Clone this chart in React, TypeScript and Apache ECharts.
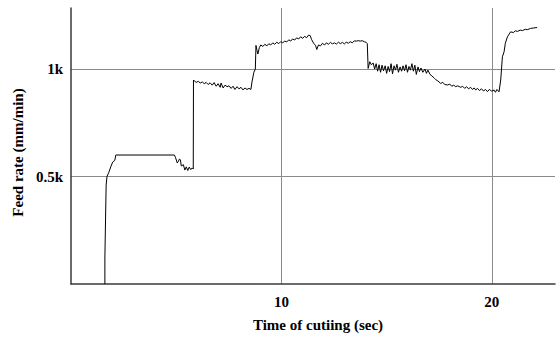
import React, { useEffect, useRef } from "react";
import * as echarts from "echarts";

const timeSec: number[] = [
  1.61, 1.61, 1.63, 1.67, 1.71, 1.8, 1.89, 1.98, 2.08, 2.13, 4.91,
  4.96, 5.05, 5.1, 5.15, 5.2, 5.24, 5.34, 5.41, 5.48, 5.55, 5.62, 5.69, 5.76, 5.81, 5.82,
  5.86, 5.95, 6.05, 6.14, 6.24, 6.33, 6.42, 6.52, 6.61, 6.71, 6.8, 6.9, 6.99, 7.09, 7.13,
  7.23, 7.32, 7.42, 7.51, 7.61, 7.7, 7.79, 7.89, 7.98, 8.08, 8.17, 8.27, 8.36, 8.46, 8.55,
  8.6, 8.69, 8.76, 8.79, 8.83, 8.88, 8.95, 9.02, 9.12, 9.21, 9.31, 9.4, 9.49, 9.59, 9.68,
  9.78, 9.87, 9.97, 10.06, 10.16, 10.25, 10.35, 10.44, 10.53, 10.63, 10.72, 10.82, 10.91,
  11.01, 11.1, 11.2, 11.29, 11.37, 11.43, 11.53, 11.62, 11.68, 11.76, 11.86, 11.95, 12.05,
  12.14, 12.23, 12.33, 12.42, 12.52, 12.61, 12.71, 12.8, 12.9, 12.99, 13.08, 13.18, 13.27,
  13.37, 13.46, 13.56, 13.65, 13.75, 13.84, 13.94, 14.03, 14.08, 14.12, 14.2, 14.27, 14.36,
  14.43, 14.5, 14.57, 14.64, 14.71, 14.78, 14.85, 14.93, 15.0, 15.07, 15.14, 15.21, 15.28,
  15.35, 15.42, 15.49, 15.56, 15.64, 15.71, 15.78, 15.85, 15.92, 15.99, 16.06, 16.13, 16.2,
  16.27, 16.34, 16.41, 16.49, 16.56, 16.63, 16.72, 16.82, 16.89, 16.96, 17.06, 17.15, 17.27,
  17.34, 17.43, 17.57, 17.67, 17.76, 17.9, 18.0, 18.09, 18.19, 18.28, 18.38, 18.52, 18.61,
  18.71, 18.8, 18.89, 18.99, 19.08, 19.16, 19.23, 19.32, 19.41, 19.51, 19.6, 19.7, 19.79,
  19.89, 19.98, 20.11, 20.17, 20.24, 20.34, 20.42, 20.5, 20.58, 20.64, 20.74, 20.89, 21.02,
  21.12, 21.21, 21.35, 21.45, 21.59, 21.68, 21.84, 21.97, 22.15,
];

const feedRate: number[] = [
  0, 121, 237, 460, 500, 520, 545, 567, 575, 600, 600,
  590, 563, 570, 581, 578, 549, 555, 530, 545, 528, 544, 532, 540, 535, 949,
  945, 938, 943, 935, 940, 932, 938, 928, 936, 925, 937, 920, 932, 915, 935,
  912, 925, 918, 922, 910, 920, 905, 918, 908, 915, 903, 912, 905, 910, 905,
  940, 985, 1000, 1110, 1090, 1070, 1100, 1112, 1105, 1115, 1108, 1118, 1112, 1122, 1115,
  1125, 1118, 1128, 1122, 1130, 1126, 1136, 1130, 1140, 1135, 1145, 1140, 1150,
  1143, 1152, 1146, 1158, 1155, 1138, 1120, 1110, 1091, 1112, 1108, 1120, 1112,
  1122, 1115, 1124, 1117, 1122, 1116, 1125, 1118, 1124, 1117, 1125, 1120, 1127,
  1122, 1131, 1130, 1132, 1130, 1132, 1127, 1124, 1118, 1003, 1034, 1020, 1028,
  1000, 1025, 990, 1020, 985, 1018, 992, 1015, 980, 1012, 988, 1025, 978,
  1015, 995, 1022, 985, 1010, 990, 1015, 992, 1020, 985, 1012, 995, 1025,
  990, 1018, 975, 1010, 988, 1005, 985, 1000, 980, 995, 975, 968, 957,
  950, 945, 933, 938, 928, 926, 930, 920, 925, 918, 922, 915, 920,
  910, 918, 908, 915, 905, 912, 903, 910, 900, 908, 898, 905, 895,
  906, 897, 902, 892, 905, 894, 949, 1057, 1080, 1120, 1150, 1173, 1170,
  1178, 1175, 1181, 1179, 1185, 1183, 1189, 1191, 1193,
];

const xTickLabels: number[] = [10, 20];
const yTickValues: number[] = [500, 1000];
const yTickLabels: string[] = ["0.5k", "1k"];

const xTitle = "Time of cutiing (sec)";
const yTitle = "Feed rate (mm/min)";

const FONT = "'Liberation Serif', 'Times New Roman', serif";

export default function App() {
  const ref = useRef<HTMLDivElement>(null);

  useEffect(() => {
    document.body.style.margin = "0";
    if (!ref.current) return;
    const chart = echarts.init(ref.current, undefined, { renderer: "svg" });
    const data = timeSec.map((t, i) => [t, feedRate[i]]);
    chart.setOption({
      animation: false,
      backgroundColor: "#ffffff",
      grid: { left: 71, right: 0, top: 8, bottom: 53, containLabel: false },
      xAxis: {
        type: "value",
        min: 0,
        max: 23,
        interval: 10,
        axisLine: { show: true, lineStyle: { color: "#3a3a3a", width: 1.5 } },
        axisTick: { show: false },
        axisLabel: {
          margin: 10,
          fontFamily: FONT,
          fontWeight: "bold",
          fontSize: 15,
          color: "#000",
          formatter: (v: number) => (xTickLabels.includes(v) ? String(v) : ""),
        },
        splitLine: {
          show: true,
          showMinLine: false,
          showMaxLine: false,
          lineStyle: { color: "#8a8a8a", width: 1 },
        },
      },
      yAxis: {
        type: "value",
        min: 0,
        max: 1284,
        interval: 500,
        axisLine: { show: true, lineStyle: { color: "#3a3a3a", width: 1.5 } },
        axisTick: { show: false },
        axisLabel: {
          margin: 8,
          fontFamily: FONT,
          fontWeight: "bold",
          fontSize: 15,
          color: "#000",
          formatter: (v: number) => {
            const idx = yTickValues.indexOf(v);
            return idx >= 0 ? yTickLabels[idx] : "";
          },
        },
        splitLine: {
          show: true,
          showMinLine: false,
          showMaxLine: false,
          lineStyle: { color: "#8a8a8a", width: 1 },
        },
      },
      graphic: [
        {
          type: "text",
          x: 17.5,
          y: 152.5,
          rotation: Math.PI / 2,
          style: {
            text: yTitle,
            fontFamily: FONT,
            fontWeight: "bold",
            fontSize: 15,
            fill: "#000",
            align: "center",
            verticalAlign: "middle",
          },
        },
        {
          type: "text",
          x: 318,
          y: 325,
          style: {
            text: xTitle,
            fontFamily: FONT,
            fontWeight: "bold",
            fontSize: 15,
            fill: "#000",
            align: "center",
            verticalAlign: "middle",
          },
        },
      ],
      series: [
        {
          type: "line",
          data,
          showSymbol: false,
          symbol: "none",
          lineStyle: { color: "#000", width: 1 },
          z: 5,
        },
      ],
    });
    return () => chart.dispose();
  }, []);

  return <div ref={ref} style={{ width: 558, height: 337 }} />;
}
